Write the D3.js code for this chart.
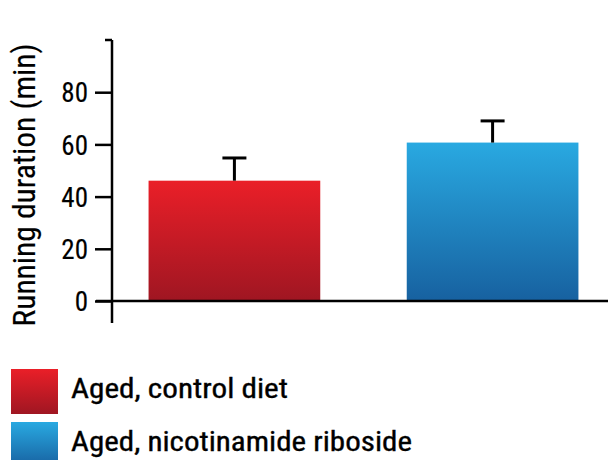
<!DOCTYPE html>
<html>
<head>
<meta charset="utf-8">
<script src="https://cdn.jsdelivr.net/npm/d3@7"></script>
<style>
  html, body { margin: 0; padding: 0; background: #fff; }
  svg { display: block; }
  text { font-family: "Liberation Sans Narrow", "Arial Narrow", "Roboto Condensed", sans-serif; fill: #000; }
</style>
</head>
<body>
<svg id="chart" width="608" height="460"></svg>
<script>
// Running duration by group (minutes), mean with upper error
const groups = ["Aged, control diet", "Aged, nicotinamide riboside"];
const means = [46.1, 60.7];
const errorTops = [54.8, 69.0];
const yTicks = [0, 20, 40, 60, 80];
const yMax = 100;
const yTitle = "Running duration (min)";

const gradients = [
  { id: "gradRed", top: "#ea1f28", bottom: "#9f1622" },
  { id: "gradBlue", top: "#29a9e1", bottom: "#1761a0" }
];

const svg = d3.select("#chart");
const defs = svg.append("defs");
gradients.forEach(g => {
  const lg = defs.append("linearGradient")
    .attr("id", g.id).attr("x1", 0).attr("y1", 0).attr("x2", 0).attr("y2", 1);
  lg.append("stop").attr("offset", "0%").attr("stop-color", g.top);
  lg.append("stop").attr("offset", "100%").attr("stop-color", g.bottom);
});

const axisX = 112;
const y = d3.scaleLinear().domain([0, yMax]).range([301, 40]);
const x = d3.scaleBand().domain(groups).range([115, 612])
  .paddingInner(0.335).paddingOuter(0.13);

// bars
svg.append("g").selectAll("rect").data(groups).join("rect")
  .attr("x", d => x(d))
  .attr("width", x.bandwidth())
  .attr("y", (d, i) => y(means[i]))
  .attr("height", (d, i) => y(0) - y(means[i]))
  .attr("fill", (d, i) => `url(#${gradients[i].id})`);

// error bars (upper only)
const capHalf = 12;
const eb = svg.append("g").attr("stroke", "#000").attr("stroke-width", 3);
groups.forEach((d, i) => {
  const cx = x(d) + x.bandwidth() / 2;
  eb.append("line").attr("x1", cx).attr("x2", cx)
    .attr("y1", y(means[i])).attr("y2", y(errorTops[i]));
  eb.append("line").attr("x1", cx - capHalf).attr("x2", cx + capHalf)
    .attr("y1", y(errorTops[i])).attr("y2", y(errorTops[i]));
});

// x baseline
svg.append("line")
  .attr("x1", 96).attr("x2", 608)
  .attr("y1", y(0)).attr("y2", y(0))
  .attr("stroke", "#000").attr("stroke-width", 2.5);

// y axis
const yAxis = d3.axisLeft(y).tickValues(yTicks).tickSize(17).tickPadding(7)
  .tickFormat(d3.format("d"));
const gy = svg.append("g").attr("transform", `translate(${axisX},0)`).call(yAxis);
gy.select(".domain").remove();
gy.attr("font-family", null);
gy.selectAll(".tick line").attr("stroke", "#000").attr("stroke-width", 2.5);
gy.selectAll(".tick text").attr("font-size", 27).attr("fill", "#000")
  .attr("stroke", "#000").attr("stroke-width", 0.15)
  .attr("dy", "0.36em");
gy.append("line").attr("x1", 0).attr("x2", 0).attr("y1", y(yMax)).attr("y2", 323)
  .attr("stroke", "#000").attr("stroke-width", 2.5);
gy.append("line").attr("x1", -7).attr("x2", 0).attr("y1", y(yMax)).attr("y2", y(yMax))
  .attr("stroke", "#000").attr("stroke-width", 2.5);

// y title
svg.append("text")
  .attr("transform", `translate(35,185) rotate(-90)`)
  .attr("text-anchor", "middle")
  .attr("font-size", 32)
  .attr("stroke", "#000").attr("stroke-width", 0.15)
  .attr("textLength", 283)
  .attr("lengthAdjust", "spacingAndGlyphs")
  .text(yTitle);

// legend
const legendWidths = [217, 341];
const legend = svg.append("g");
groups.forEach((d, i) => {
  const top = 369 + i * 53;
  legend.append("rect").attr("x", 11).attr("y", top).attr("width", 47).attr("height", 45)
    .attr("fill", `url(#${gradients[i].id})`);
  legend.append("text").attr("x", 71).attr("y", top + 29)
    .attr("font-size", 27)
    .attr("stroke", "#000").attr("stroke-width", 0.35)
    .attr("textLength", legendWidths[i])
    .attr("lengthAdjust", "spacingAndGlyphs")
    .text(d);
});
</script>
</body>
</html>
